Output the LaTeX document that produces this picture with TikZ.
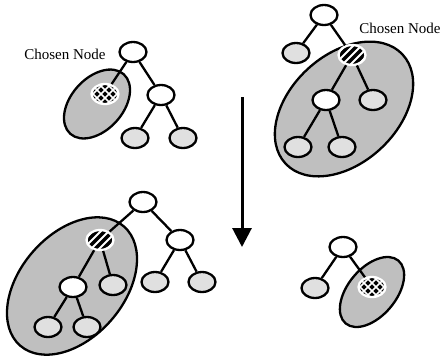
\documentclass[tikz,border=0pt]{standalone}
\usepackage{fontspec}
\setmainfont{Liberation Serif}
\usetikzlibrary{shapes.geometric,arrows.meta}

\definecolor{groupgray}{gray}{0.75}
\definecolor{leafgray}{gray}{0.88}

\tikzset{
  tn/.style={ellipse, draw, line width=2.3pt, minimum width=27pt,
    minimum height=20pt, inner sep=0pt, fill=white},
  leaf/.style={tn, fill=leafgray},
  group/.style={ellipse, draw, line width=2.3pt, fill=groupgray, inner sep=0pt},
  % chosen node, black with a white diagonal grid
  cross/.style={tn, draw=white, path picture={
      \fill[black] (path picture bounding box.south west)
        rectangle (path picture bounding box.north east);
      \foreach \k in {-36,-28,...,36}{
        \draw[white, line width=1.6pt]
          ([xshift=\k pt]path picture bounding box.center) ++(-20pt,-20pt) -- ++(40pt,40pt);
        \draw[white, line width=1.6pt]
          ([xshift=\k pt]path picture bounding box.center) ++(-20pt,20pt) -- ++(40pt,-40pt);
      }}},
  % chosen node, black with white diagonal stripes
  hatch/.style={tn, draw=white, path picture={
      \fill[black] (path picture bounding box.south west)
        rectangle (path picture bounding box.north east);
      \foreach \k in {-24,-16,...,24}{
        \draw[white, line width=1.8pt]
          ([xshift=\k pt]path picture bounding box.center) ++(-20pt,-20pt) -- ++(40pt,40pt);
      }}},
  link/.style={line width=2.3pt},
  lbl/.style={font=\fontsize{15}{18}\selectfont, inner sep=0pt}
}

\begin{document}
\begin{tikzpicture}[x=1pt, y=1pt]
\useasboundingbox (0,0) rectangle (443,-357);

% ---- upper left: a leaf is chosen
\node[group, rotate=48, minimum width=80pt, minimum height=52pt] (tlg) at (97,-104) {};
\node[tn]    (tlr)  at (133,-52)  {};
\node[cross] (tlc)  at (105,-94)  {};
\node[tn]    (tlb)  at (161,-95)  {};
\node[leaf]  (tll1) at (135,-138) {};
\node[leaf]  (tll2) at (183,-138) {};
\node[lbl]   (tlt)  at (65,-54)   {Chosen Node};
\draw[link] (tlr) -- (tlc);
\draw[link] (tlr) -- (tlb);
\draw[link] (tlb) -- (tll1);
\draw[link] (tlb) -- (tll2);

% ---- upper right: an inner node is chosen
\node[group, rotate=43, minimum width=160pt, minimum height=108pt] (trg) at (344,-109) {};
\node[tn]    (trr)  at (324,-15)  {};
\node[leaf]  (trl)  at (296,-53)  {};
\node[hatch] (trc)  at (352,-55)  {};
\node[tn]    (trw)  at (326,-100) {};
\node[leaf]  (trx)  at (373,-100) {};
\node[leaf]  (trw1) at (298,-147) {};
\node[leaf]  (trw2) at (342,-147) {};
\node[lbl]   (trt)  at (400,-28)  {Chosen Node};
\draw[link] (trr) -- (trl);
\draw[link] (trr) -- (trc);
\draw[link] (trc) -- (trw);
\draw[link] (trc) -- (trx);
\draw[link] (trw) -- (trw1);
\draw[link] (trw) -- (trw2);

% ---- the step between the rows
\coordinate (arrtop) at (242,-97);
\coordinate (arrend) at (242,-247);
\draw[line width=3pt, -{Triangle[width=19pt,length=19pt]}] (arrtop) -- (arrend);

% ---- lower left: subtrees exchanged
\node[group, rotate=49, minimum width=158pt, minimum height=104pt] (blg) at (72,-286) {};
\node[tn]    (blr)  at (143,-202) {};
\node[hatch] (blc)  at (100,-240) {};
\node[tn]    (blb)  at (180,-240) {};
\node[leaf]  (blb1) at (155,-282) {};
\node[leaf]  (blb2) at (202,-282) {};
\node[tn]    (blw)  at (73,-287)  {};
\node[leaf]  (blx)  at (113,-285) {};
\node[leaf]  (blw1) at (48,-327)  {};
\node[leaf]  (blw2) at (87,-327)  {};
\draw[link] (blr) -- (blc);
\draw[link] (blr) -- (blb);
\draw[link] (blb) -- (blb1);
\draw[link] (blb) -- (blb2);
\draw[link] (blc) -- (blw);
\draw[link] (blc) -- (blx);
\draw[link] (blw) -- (blw1);
\draw[link] (blw) -- (blw2);

% ---- lower right
\node[group, rotate=50, minimum width=82pt, minimum height=48pt] (brg) at (372,-292) {};
\node[tn]    (brr)  at (343,-247) {};
\node[leaf]  (brl)  at (315,-288) {};
\node[cross] (brc)  at (372,-287) {};
\draw[link] (brr) -- (brl);
\draw[link] (brr) -- (brc);
\end{tikzpicture}
\end{document}
